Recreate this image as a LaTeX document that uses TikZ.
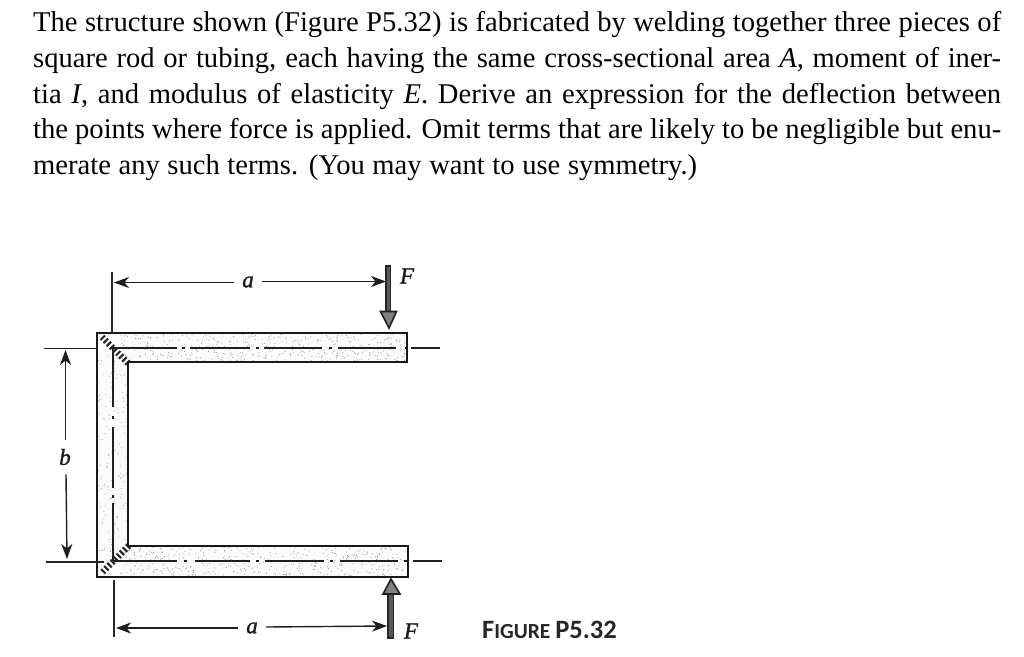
\documentclass[tikz,border=0pt]{standalone}
\usepackage{fontspec}
\setmainfont{Liberation Serif}
\newfontfamily\capfont{Carlito}
\newfontfamily\dimfont[ItalicFeatures={FakeBold=1.2}]{Liberation Serif}
\usetikzlibrary{arrows.meta}
\tikzset{
  bodytext/.style={anchor=base west,inner sep=0pt,font=\fontsize{28.6pt}{32pt}\selectfont,text=black},
  dimlabel/.style={inner sep=0pt,font=\dimfont\fontsize{23pt}{25pt}\selectfont\itshape,text=black!90},
  outline/.style={draw=black!90,line width=2pt,line join=miter},
  thinline/.style={draw=black!85,line width=1.5pt},
  centreline/.style={draw=black!88,line width=1.7pt},
  dimarrow/.style={draw=black!88,line width=1.4pt,-{Stealth[length=15pt,width=11pt,inset=4.5pt]}},
  forcehead/.style={draw=black!88,fill=black!50,line width=1.6pt,line join=miter},
  forceshaft/.style={draw=black!85,fill=black!65,line width=1.8pt},
  weld/.style={draw=black!85,line width=2.1pt}
}
\begin{document}
\begin{tikzpicture}[x=1pt,y=-1pt]
\useasboundingbox[fill=white] (0,0) rectangle (1024,656);

% --- problem statement, each line set to the reference's measure
\node[bodytext] (l1) at (33,31.5) {\makebox[968pt][s]{The structure shown (Figure P5.32) is fabricated by welding together three pieces of}};
\node[bodytext] (l2) at (33,67.5) {\makebox[968pt][s]{square rod or tubing, each having the same cross-sectional area \textit{A}, moment of iner-}};
\node[bodytext] (l3) at (33,103) {\makebox[968pt][s]{tia \textit{I}, and modulus of elasticity \textit{E}. Derive an expression for the deflection between}};
\node[bodytext] (l4) at (33,138.5) {\makebox[968pt][s]{the points where force is applied. Omit terms that are likely to be negligible but enu-}};
\node[bodytext] (l5) at (33,174) {\makebox[664pt][s]{merate any such terms. (You may want to use symmetry.)}};

% --- named points
\coordinate (oTL) at (97,333);
\coordinate (oTR) at (407,333);
\coordinate (iTR) at (407,362);
\coordinate (iTL) at (128,362);
\coordinate (iBL) at (128,546);
\coordinate (iBR) at (408,546);
\coordinate (oBR) at (408,577);
\coordinate (oBL) at (97,577);

% --- stippled body
\fill[black!1.5] (oTL) -- (oTR) -- (iTR) -- (iTL) -- (iBL) -- (iBR) -- (oBR) -- (oBL) -- cycle;
\pgfmathsetseed{4711}
\begin{scope}
\clip (oTL) -- (oTR) -- (iTR) -- (iTL) -- (iBL) -- (iBR) -- (oBR) -- (oBL) -- cycle;
\foreach \i in {1,...,420}{
  \pgfmathsetmacro{\px}{120+287*rnd}
  \pgfmathsetmacro{\py}{334+27*rnd}
  \fill[black!45] (\px,\py) circle (0.5pt);
  \pgfmathsetmacro{\qx}{120+287*rnd}
  \pgfmathsetmacro{\qy}{547+29*rnd}
  \fill[black!45] (\qx,\qy) circle (0.5pt);
}
\foreach \i in {1,...,170}{
  \pgfmathsetmacro{\px}{98+29*rnd}
  \pgfmathsetmacro{\py}{355+200*rnd}
  \fill[black!38] (\px,\py) circle (0.5pt);
}
\end{scope}

% --- centre lines (long dash, dot)
\foreach \a/\b in {112/177,181.5/184.5,190/250,255.5/258.5,264/322,328.5/331.5,338/396,405/407,411/440}
  \draw[centreline] (\a,348) -- (\b,348);
\foreach \a/\b in {113/177,183.5/186.5,195/250,256/259,265/324,329.5/332.5,340/398,404/406.5,413/442}
  \draw[centreline] (\a,561) -- (\b,561);
\foreach \a/\b in {348/407,416/419,427/488,494.5/497.5,503/561}
  \draw[centreline] (113,\a) -- (113,\b);

% --- welds
\foreach \t in {0,1,...,8}{
  \pgfmathsetmacro{\wx}{102.5+3.1*\t}
  \pgfmathsetmacro{\wy}{336.5+3.1*\t}
  \draw[weld] (\wx-2,\wy+3.5) -- (\wx+2.5,\wy-1);
  \pgfmathsetmacro{\vx}{103.5+3.1*\t}
  \pgfmathsetmacro{\vy}{572.5-3.1*\t}
  \draw[weld] (\vx-2.5,\vy-3.5) -- (\vx+2,\vy+1);
}

% --- outline
\draw[outline] (oTL) -- (oTR) -- (iTR) -- (iTL) -- (iBL) -- (iBR) -- (oBR) -- (oBL) -- cycle;

% --- dimension a (top)
\coordinate (extTa) at (112,272);
\coordinate (extTb) at (112,333);
\draw[thinline] (extTa) -- (extTb);
\node[dimlabel] (aT) at (248,282) {a};
\coordinate (dimTl) at (114,282.5);
\coordinate (dimTr) at (386,281.5);
\draw[dimarrow] (aT.west) ++(-8,0.5) -- (dimTl);
\draw[dimarrow] (aT.east) ++(8,-0.5) -- (dimTr);

% --- dimension a (bottom)
\coordinate (extBa) at (114,580);
\coordinate (extBb) at (114,637);
\draw[thinline] (extBa) -- (extBb);
\node[dimlabel] (aB) at (252,628) {a};
\coordinate (dimBl) at (116,628);
\coordinate (dimBr) at (387,626);
\draw[dimarrow] (aB.west) ++(-8,0) -- (dimBl);
\draw[dimarrow] (aB.east) ++(8,-1) -- (dimBr);

% --- dimension b
\node[dimlabel] (bL) at (65,457) {b};
\coordinate (dimBt) at (65.5,350);
\coordinate (dimBb) at (67,559);
\draw[dimarrow] (bL.north) ++(0.5,-9) -- (dimBt);
\draw[dimarrow] (bL.south) ++(1,9) -- (dimBb);
\coordinate (extL1a) at (44,348.5);
\coordinate (extL1b) at (97,348.5);
\coordinate (extL2a) at (46,562);
\coordinate (extL2b) at (104,562);
\draw[thinline] (extL1a) -- (extL1b);
\draw[thinline] (extL2a) -- (extL2b);

% --- forces
\draw[forceshaft] (386,266) rectangle (390.5,312);
\draw[forcehead] (380.5,311.5) -- (396.5,311.5) -- (389,328) -- cycle;
\draw[forceshaft] (388,594) rectangle (393.5,638);
\draw[forcehead] (391,579) -- (383,594) -- (400,594) -- cycle;

\node[dimlabel] (F1) at (407,276) {F};
\node[dimlabel] (F2) at (411,631) {F};

% --- caption
\node[anchor=base west,inner sep=0pt,font=\capfont\bfseries\fontsize{26.5pt}{28pt}\selectfont,text=black!85] (cap) at (482,638)
  {F\fontsize{21.5pt}{23pt}\selectfont IGURE \fontsize{26.5pt}{28pt}\selectfont P5.32};
\end{tikzpicture}
\end{document}
